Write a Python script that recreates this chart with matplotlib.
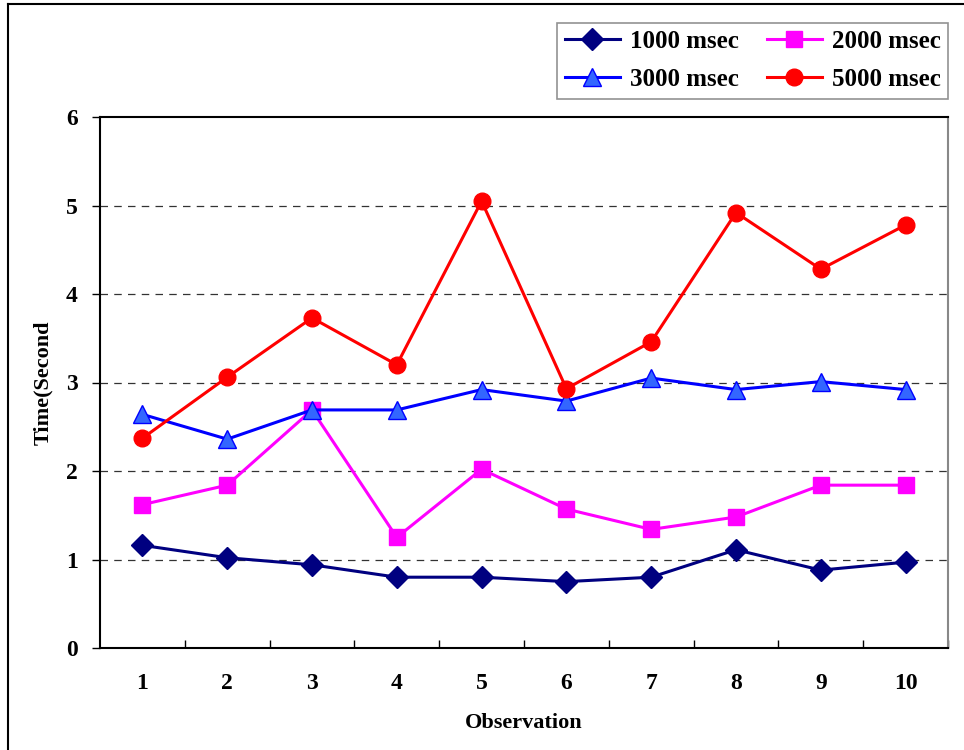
import matplotlib.pyplot as plt
from matplotlib.lines import Line2D

observations = [1, 2, 3, 4, 5, 6, 7, 8, 9, 10]
series_labels = ["1000 msec", "2000 msec", "3000 msec", "5000 msec"]
t1000 = [1.16, 1.02, 0.94, 0.80, 0.80, 0.75, 0.80, 1.11, 0.88, 0.97]
t2000 = [1.62, 1.84, 2.69, 1.25, 2.02, 1.57, 1.34, 1.48, 1.84, 1.84]
t3000 = [2.64, 2.36, 2.69, 2.69, 2.92, 2.79, 3.05, 2.92, 3.01, 2.92]
t5000 = [2.37, 3.06, 3.73, 3.20, 5.05, 2.93, 3.46, 4.92, 4.28, 4.78]

plt.rcParams['font.family'] = ['Liberation Serif', 'DejaVu Serif']
plt.rcParams['font.weight'] = 'bold'

fig = plt.figure(figsize=(9.64, 7.5), dpi=100)
ax = fig.add_axes([100 / 964, 102 / 750, 848 / 964, 531 / 750])

# outer frame (only left and top edges visible)
fig.add_artist(Line2D([8 / 964, 8 / 964], [0, 746 / 750], transform=fig.transFigure, color='black', lw=1.5))
fig.add_artist(Line2D([8 / 964, 1], [746 / 750, 746 / 750], transform=fig.transFigure, color='black', lw=1.5))

l1, = ax.plot(observations, t1000, color='#000080', lw=2.2, marker='D', ms=11,
              mfc='#000080', mec='#000080', label=series_labels[0], zorder=3)
l2, = ax.plot(observations, t2000, color='#FF00FF', lw=2.2, marker='s', ms=12,
              mfc='#FF00FF', mec='#FF00FF', label=series_labels[1], zorder=3)
l3, = ax.plot(observations, t3000, color='#0000FF', lw=2.2, marker='^', ms=13,
              mfc='#3366FF', mec='#0000FF', mew=1, label=series_labels[2], zorder=3)
l4, = ax.plot(observations, t5000, color='#FF0000', lw=2.2, marker='o', ms=12,
              mfc='#FF0000', mec='#FF0000', label=series_labels[3], zorder=3)

ax.set_xlim(0.5, 10.5)
ax.set_ylim(0, 6)
ax.set_xticks(observations)
ax.set_xticklabels([str(o) for o in observations], fontsize=17, fontweight='bold')
ax.set_xticks([x + 0.5 for x in observations], minor=True)
ax.tick_params(axis='x', which='major', length=0, pad=18)
ax.tick_params(axis='x', which='minor', direction='in', length=6, width=1)
ax.set_yticks(range(0, 7))
ax.set_yticklabels([str(v) for v in range(0, 7)], fontsize=17, fontweight='bold')
ax.tick_params(axis='y', direction='out', length=6, width=1, pad=10)

for v in range(1, 6):
    ax.axhline(v, color='#333333', lw=0.9, ls=(0, (6, 5)), zorder=1)

for s in ['left', 'bottom', 'top']:
    ax.spines[s].set_color('black')
    ax.spines[s].set_linewidth(1.5)
ax.spines['right'].set_color('#888888')
ax.spines['right'].set_linewidth(1.5)

ax.set_xlabel("Observation", fontsize=16, fontweight='bold', labelpad=14)
ax.set_ylabel("Time(Second", fontsize=16, fontweight='bold', labelpad=9)

handles = [l1, l3, l2, l4]
leg = fig.legend(handles, [h.get_label() for h in handles],
                 loc='center', bbox_to_anchor=(557 / 964, 1 - 99 / 750, 391 / 964, 77 / 750),
                 mode='expand', ncol=2, fontsize=18, frameon=True, fancybox=False,
                 edgecolor='#777777', handlelength=2.2, columnspacing=1.0,
                 handletextpad=0.4, borderpad=0.3, labelspacing=0.6, borderaxespad=0)
leg.get_frame().set_linewidth(1.2)
for t in leg.get_texts():
    t.set_fontweight('bold')

fig.savefig("out.png", dpi=100)
